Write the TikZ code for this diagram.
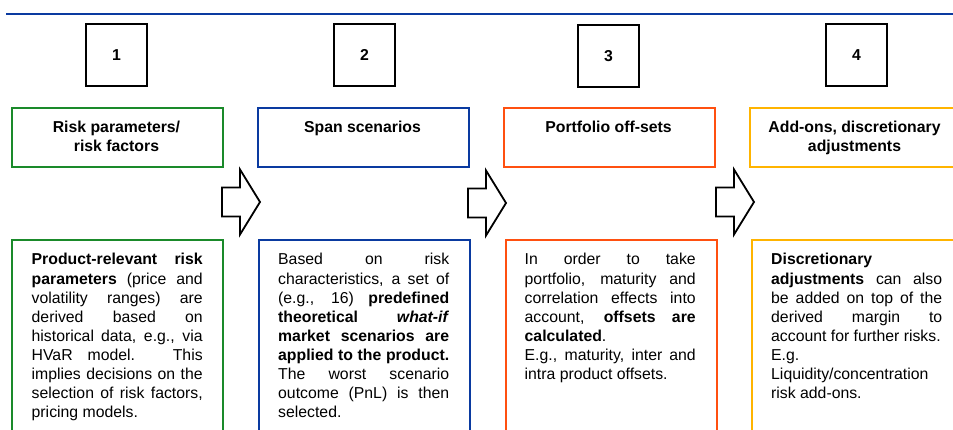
\documentclass[tikz,border=0pt]{standalone}
\usepackage{fontspec}
\setmainfont{Liberation Sans}
\definecolor{topblue}{HTML}{0A3AA0}
\definecolor{cgreen}{HTML}{1A8A2A}
\definecolor{cblue}{HTML}{0A3AA0}
\definecolor{corange}{HTML}{FF5010}
\definecolor{cyellow}{HTML}{FFB400}
\newcommand{\bodyfont}{\fontsize{15.8}{19.1}\selectfont}
\newcommand{\titlefont}{\fontsize{15.8}{18.4}\selectfont\bfseries}
\newcommand{\bodytext}[1]{\parbox[t]{171pt}{\bodyfont\tolerance=10000\hbadness=10000\hyphenpenalty=10000\exhyphenpenalty=10000 #1}}
\newcommand{\titletext}[1]{\parbox[t]{205pt}{\centering\titlefont #1}}
\tikzset{
  numbox/.style={draw=black, line width=1.8pt, minimum width=61pt, minimum height=62pt, inner sep=0pt, font=\fontsize{15.8}{19}\selectfont\bfseries},
  titlebox/.style={draw=#1, line width=2pt, minimum width=211pt, minimum height=59pt, inner sep=0pt, anchor=north west},
  bodybox/.style={draw=#1, line width=2pt, minimum width=211pt, minimum height=220pt, inner sep=0pt, anchor=north west},
  ttxt/.style={inner sep=0pt, anchor=base},
  btxt/.style={inner sep=0pt, anchor=base west},
  blockarrow/.style={draw=black, line width=1.8pt, fill=white, line join=miter}
}
\begin{document}
\begin{tikzpicture}[x=1pt,y=-1pt]
\useasboundingbox (0,0) rectangle (953,430);
\clip (0,0) rectangle (953,430);
% top rule
\coordinate (rs) at (6,14);
\coordinate (re) at (960,14);
\draw[topblue, line width=2.2pt] (rs) -- (re);
% number boxes
\node[numbox] (n1) at (116.5,55) {1};
\node[numbox] (n2) at (364.5,55) {2};
\node[numbox] (n3) at (608.5,56) {3};
\node[numbox] (n4) at (856.5,55) {4};
% title boxes
\node[titlebox=cgreen]  (t1) at (11,107) {};
\node[titlebox=cblue]   (t2) at (257,107) {};
\node[titlebox=corange] (t3) at (503,107) {};
\node[titlebox=cyellow] (t4) at (749,107) {};
\node[ttxt] (tt1) at (116.5,133) {\titletext{Risk parameters/\\risk factors}};
\node[ttxt] (tt2) at (362.5,133) {\titletext{Span scenarios}};
\node[ttxt] (tt3) at (608.5,133) {\titletext{Portfolio off-sets}};
\node[ttxt] (tt4) at (854.5,133) {\titletext{Add-ons, discretionary\\adjustments}};
% body boxes
\node[bodybox=cgreen]  (b1) at (11,239) {};
\node[bodybox=cblue]   (b2) at (258,239) {};
\node[bodybox=corange] (b3) at (505,239) {};
\node[bodybox=cyellow] (b4) at (751,239) {};
\node[btxt] (bt1) at (31.5,265) {\bodytext{\textbf{Product-relevant risk}\linebreak
\textbf{parameters} (price and\linebreak
volatility ranges) are\linebreak
derived based on\linebreak
historical data, e.g., via\linebreak
HVaR model. This\linebreak
implies decisions on the\linebreak
selection of risk factors,\linebreak
pricing models.}};
\node[btxt] (bt2) at (278,265) {\bodytext{Based on risk\linebreak
characteristics, a set of\linebreak
(e.g., 16) \textbf{predefined}\linebreak
\textbf{theoretical \textit{what-if}}\linebreak
\textbf{market scenarios are}\linebreak
\textbf{applied to the product.}\linebreak
The worst scenario\linebreak
outcome (PnL) is then\linebreak
selected.}};
\node[btxt] (bt3) at (524.5,265) {\bodytext{In order to take\linebreak
portfolio, maturity and\linebreak
correlation effects into\linebreak
account, \textbf{offsets are}\linebreak
\textbf{calculated}.\\
E.g., maturity, inter and\linebreak
intra product offsets.}};
\node[btxt] (bt4) at (771,265) {\bodytext{\textbf{Discretionary}\\
\textbf{adjustments} can also\linebreak
be added on top of the\linebreak
derived margin to\linebreak
account for further risks.\\
E.g.\\
Liquidity/concentration\\
risk add-ons.}};
% block arrows
\coordinate (a1) at (222,202);
\coordinate (a2) at (468,203);
\coordinate (a3) at (716,202);
\foreach \a in {a1,a2,a3}{
  \draw[blockarrow, shift={(\a)}] (0,-14.5) -- (18,-14.5) -- (18,-32.5) -- (38,0) -- (18,32.5) -- (18,14.5) -- (0,14.5) -- cycle;
}
\end{tikzpicture}
\end{document}
